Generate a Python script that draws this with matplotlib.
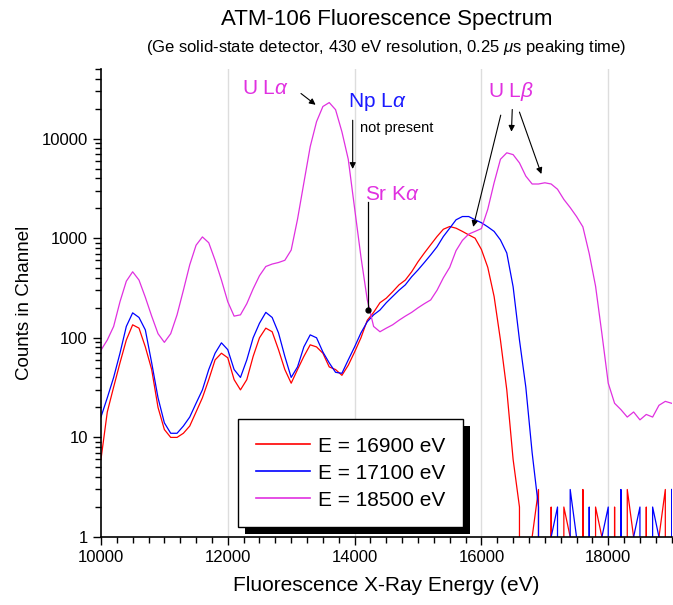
import numpy as np
import matplotlib
matplotlib.use("Agg")
import matplotlib.pyplot as plt
from matplotlib.ticker import LogLocator, MultipleLocator, NullFormatter
from matplotlib.patches import Rectangle
from matplotlib.transforms import IdentityTransform

# energy axis, one reading every 100 eV from 10000 to 19000 eV
energy = np.arange(10000, 19001, 100)

# E = 16900 eV excitation (red)
counts_16900 = [
    6, 18, 32, 56, 95, 135, 125, 81, 48, 20,
    12, 10, 10, 11, 13, 18, 25, 38, 60, 70,
    63, 38, 30, 38, 65, 100, 125, 115, 76, 48,
    35, 48, 65, 85, 81, 70, 51, 48, 42, 53,
    72, 100, 150, 180, 225, 250, 290, 340, 380, 460,
    580, 710, 860, 1040, 1230, 1310, 1260, 1170, 1080, 1000,
    770, 510, 260, 95, 30, 6,
    2, 0, 1, 3, 0, 2, 0, 2, 1, 0, 3, 0, 2, 1, 0, 2, 0, 3, 1, 0, 2, 0, 1, 3, 0,
]

# E = 17100 eV excitation (blue)
counts_17100 = [
    16, 25, 40, 70, 130, 178, 160, 120, 56, 25,
    14, 11, 11, 13, 16, 22, 30, 48, 70, 89,
    76, 48, 40, 60, 100, 140, 180, 160, 112, 65,
    40, 51, 81, 107, 100, 72, 56, 45, 44, 60,
    81, 112, 145, 170, 190, 225, 260, 300, 340, 410,
    480, 570, 680, 820, 1040, 1260, 1530, 1650, 1650, 1530,
    1430, 1300, 1170, 960, 710, 325, 95, 32, 7, 2,
    0, 1, 2, 0, 3, 1, 0, 2, 0, 1, 2, 0, 3, 0, 1, 2, 0, 2, 1, 0, 3,
]

# E = 18500 eV excitation (magenta)
counts_18500 = [
    75, 95, 130, 230, 370, 460, 380, 255, 165, 110,
    90, 110, 170, 300, 540, 850, 1030, 900, 600, 380,
    230, 165, 170, 220, 310, 420, 520, 550, 570, 600,
    760, 1550, 3600, 8300, 14800, 21000, 23000, 19500, 11700, 6200,
    2000, 650, 240, 130, 115, 125, 135, 150, 165, 180,
    200, 220, 240, 300, 400, 510, 750, 950, 1100, 1170,
    1250, 1950, 3600, 6200, 7200, 6900, 5700, 4200, 3500, 3500,
    3600, 3500, 3100, 2450, 2030, 1650, 1300, 700, 330, 110,
    35, 22, 19, 16, 18, 15, 17, 16, 21, 23, 22,
]

series_labels = ["E = 16900 eV", "E = 17100 eV", "E = 18500 eV"]
series_colors = ["#ff0000", "#0000ff", "#e030e0"]

x_ticks = [10000, 12000, 14000, 16000, 18000]
y_ticks = [1, 10, 100, 1000, 10000]


def set_fonts():
    """Arial-like font with fallback"""
    plt.rcParams['font.family'] = ['Liberation Sans', 'DejaVu Sans']
    plt.rcParams['mathtext.fontset'] = 'custom'
    plt.rcParams['mathtext.rm'] = 'Liberation Sans'
    plt.rcParams['mathtext.it'] = 'Liberation Sans:italic'


def draw_spectrum(ax):
    """three spectra on log axis"""
    all_counts = [counts_16900, counts_17100, counts_18500]
    for counts, label, color in zip(all_counts, series_labels, series_colors):
        ax.plot(energy, counts, color=color, lw=0.9, label=label)

    ax.set_yscale('log', nonpositive='clip')
    ax.set_xlim(10000, 19000)
    ax.set_ylim(1, 50000)

    ax.set_xticks(x_ticks)
    ax.set_xticklabels([str(t) for t in x_ticks])
    ax.xaxis.set_minor_locator(MultipleLocator(250))
    ax.set_yticks(y_ticks)
    ax.set_yticklabels([str(t) for t in y_ticks])
    ax.yaxis.set_minor_locator(LogLocator(base=10, subs=np.arange(2, 10)))
    ax.yaxis.set_minor_formatter(NullFormatter())

    ax.tick_params(which='major', direction='out', length=6, width=1,
                   labelsize=12, colors='black')
    ax.tick_params(which='minor', direction='out', length=4, width=1)

    for side in ['top', 'right']:
        ax.spines[side].set_visible(False)
    for side in ['left', 'bottom']:
        ax.spines[side].set_linewidth(1.2)

    for t in x_ticks[1:]:
        ax.axvline(t, color='#dddddd', lw=1, zorder=0)

    ax.set_xlabel('Fluorescence X-Ray Energy (eV)', fontsize=15, labelpad=8)
    ax.set_ylabel('Counts in Channel', fontsize=13.5, labelpad=6)


def add_labels(ax):
    """peak labels and arrows"""
    arrow = dict(arrowstyle='-|>', color='black', lw=0.8, mutation_scale=9)
    mag = series_colors[2]

    ax.text(12600, 32000, r'U L$\alpha$', color=mag, fontsize=15,
            ha='center', va='center')
    ax.annotate('', xy=(13420, 21000), xytext=(13120, 29500), arrowprops=arrow)

    ax.text(14360, 23500, r'Np L$\alpha$', color='#1a1aff', fontsize=15,
            ha='center', va='center')
    ax.text(14080, 12900, 'not present', color='black', fontsize=10.5,
            ha='left', va='center')
    ax.annotate('', xy=(13970, 4650), xytext=(13970, 16300), arrowprops=arrow)

    ax.text(14590, 2740, r'Sr K$\alpha$', color=mag, fontsize=15,
            ha='center', va='center')
    ax.plot([14205, 14205], [2300, 190], color='black', lw=0.9)
    ax.plot([14205], [190], 'o', color='black', ms=3.5)

    ax.text(16470, 29600, r'U L$\beta$', color=mag, fontsize=15,
            ha='center', va='center')
    ax.annotate('', xy=(15860, 1220), xytext=(16315, 18300), arrowprops=arrow)
    ax.annotate('', xy=(16472, 11000), xytext=(16488, 20900), arrowprops=arrow)
    ax.annotate('', xy=(16960, 4150), xytext=(16585, 19600), arrowprops=arrow)


def add_legend(fig, ax):
    """boxed legend with a solid black drop shadow"""
    leg = ax.legend(loc='upper left', bbox_to_anchor=(0.24, 0.252),
                    borderaxespad=0, fontsize=15, frameon=True, fancybox=False,
                    edgecolor='black', framealpha=1, handlelength=2.6,
                    handletextpad=0.4, labelspacing=0.38, borderpad=0.85)
    leg.get_frame().set_linewidth(1)
    for line in leg.get_lines():
        line.set_linewidth(1.2)
    leg.set_zorder(6)
    fig.canvas.draw()
    bb = leg.get_window_extent()
    shadow = Rectangle((bb.x0 + 7, bb.y0 - 7), bb.width, bb.height,
                       transform=IdentityTransform(), facecolor='black',
                       edgecolor='none', zorder=5.5)
    ax.add_artist(shadow)
    shadow.set_clip_on(False)


if __name__ == "__main__":
    set_fonts()
    fig = plt.figure(figsize=(6.73, 6.05), dpi=100)
    ax = fig.add_axes([0.150, 0.1124, 0.848, 0.7736])

    draw_spectrum(ax)
    add_labels(ax)

    fig.text(0.574, 0.968, 'ATM-106 Fluorescence Spectrum', fontsize=16,
             ha='center', va='center')
    fig.text(0.574, 0.921,
             r'(Ge solid-state detector, 430 eV resolution, 0.25 $\mu$s peaking time)',
             fontsize=12, ha='center', va='center')

    add_legend(fig, ax)
    fig.savefig('out.png', dpi=100)
